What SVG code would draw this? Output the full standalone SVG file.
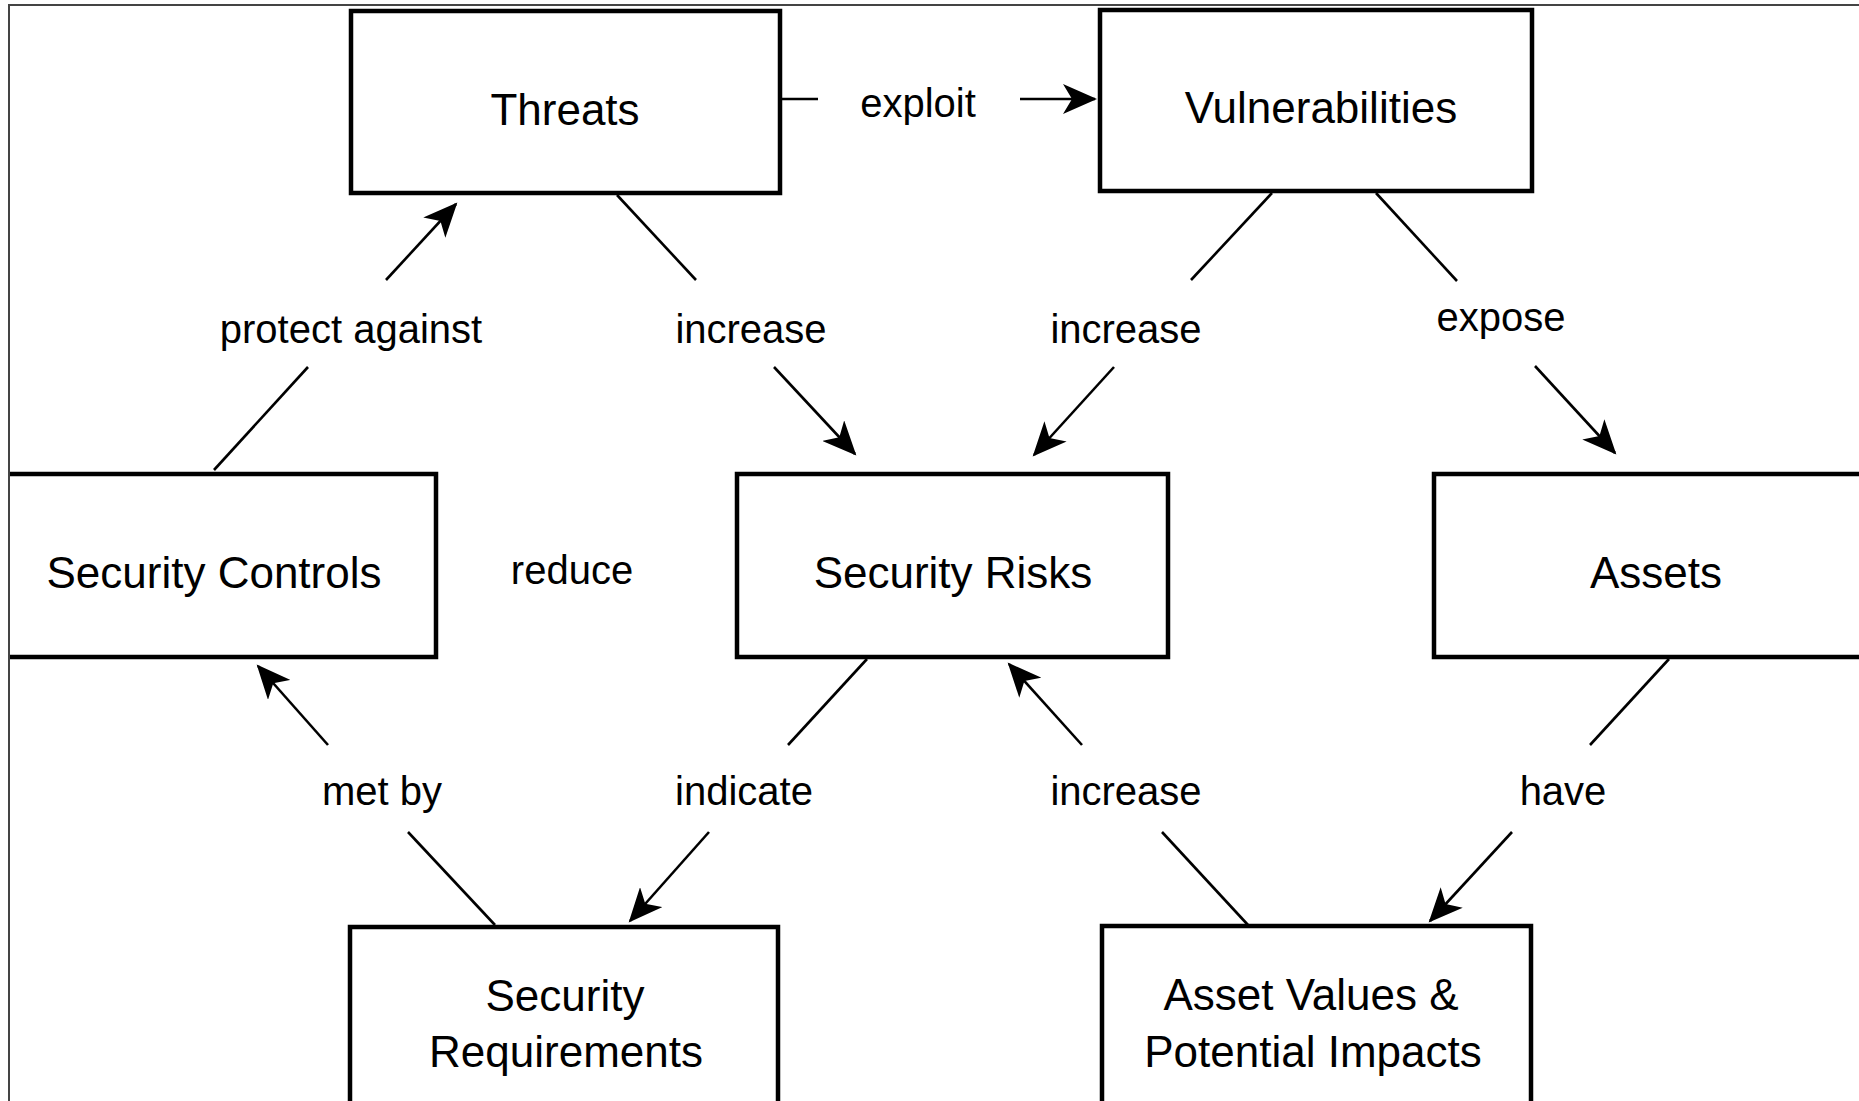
<svg xmlns="http://www.w3.org/2000/svg" width="1859" height="1101" viewBox="0 0 1859 1101">
<style>
  .box { fill: #ffffff; stroke: #000000; stroke-width: 4.5; }
  .nt { font-family: "Liberation Sans", Arial, sans-serif; font-size: 44px; fill: #000000; text-anchor: middle; }
  .lt { font-family: "Liberation Sans", Arial, sans-serif; font-size: 40px; fill: #000000; text-anchor: middle; }
  .ln { stroke: #000000; stroke-width: 2.6; fill: none; }
  .ar { stroke: #000000; stroke-width: 2.6; fill: none; marker-end: url(#head); }
  .frame { stroke: #444444; stroke-width: 2; fill: none; }
</style>
<defs>
  <marker id="head" markerUnits="userSpaceOnUse" viewBox="0 0 36 30" refX="32" refY="15" markerWidth="36" markerHeight="30" orient="auto">
    <path d="M0,0 L34,15 L0,30 L9,15 Z" fill="#000000"/>
  </marker>
</defs>
<rect x="0" y="0" width="1859" height="1101" fill="#ffffff"/>

<g id="connectors">
  <line class="ln" x1="780" y1="99" x2="818" y2="99"/>
  <line class="ar" x1="1020" y1="99" x2="1095" y2="99"/>
  <line class="ln" x1="617" y1="195" x2="696" y2="280"/>
  <line class="ar" x1="774" y1="367" x2="855" y2="454"/>
  <line class="ln" x1="1272" y1="193" x2="1191" y2="280"/>
  <line class="ar" x1="1114" y1="367" x2="1034" y2="455"/>
  <line class="ln" x1="214" y1="470" x2="308" y2="367"/>
  <line class="ar" x1="386" y1="280" x2="456" y2="204"/>
  <line class="ln" x1="1376" y1="193" x2="1457" y2="281"/>
  <line class="ar" x1="1535" y1="366" x2="1615" y2="453"/>
  <line class="ln" x1="867" y1="659" x2="788" y2="745"/>
  <line class="ar" x1="709" y1="832" x2="630" y2="921"/>
  <line class="ln" x1="495" y1="925" x2="408" y2="832"/>
  <line class="ar" x1="328" y1="745" x2="258" y2="666"/>
  <line class="ln" x1="1248" y1="925" x2="1162" y2="832"/>
  <line class="ar" x1="1082" y1="745" x2="1009" y2="664"/>
  <line class="ln" x1="1669" y1="659" x2="1590" y2="745"/>
  <line class="ar" x1="1512" y1="832" x2="1430" y2="921"/>
</g>

<g id="labels">
  <text class="lt" x="918" y="117">exploit</text>
  <text class="lt" x="351" y="343">protect against</text>
  <text class="lt" x="751" y="343">increase</text>
  <text class="lt" x="1126" y="343">increase</text>
  <text class="lt" x="1501" y="331">expose</text>
  <text class="lt" x="572" y="584">reduce</text>
  <text class="lt" x="382" y="805">met by</text>
  <text class="lt" x="744" y="805">indicate</text>
  <text class="lt" x="1126" y="805">increase</text>
  <text class="lt" x="1563" y="805">have</text>
</g>

<g id="threats">
  <rect class="box" x="351" y="11" width="429" height="182"/>
  <text class="nt" x="565" y="125">Threats</text>
</g>
<g id="vulnerabilities">
  <rect class="box" x="1100" y="10" width="432" height="181"/>
  <text class="nt" x="1321" y="123">Vulnerabilities</text>
</g>
<g id="security-controls">
  <path class="box" d="M9,474 H436 V657 H9"/>
  <text class="nt" x="214" y="588">Security Controls</text>
</g>
<g id="security-risks">
  <rect class="box" x="737" y="474" width="431" height="183"/>
  <text class="nt" x="953" y="588">Security Risks</text>
</g>
<g id="assets">
  <rect class="box" x="1434" y="474" width="500" height="183"/>
  <text class="nt" x="1656" y="588">Assets</text>
</g>
<g id="security-requirements">
  <rect class="box" x="350" y="927" width="428" height="300"/>
  <text class="nt" x="565" y="1011">Security</text>
  <text class="nt" x="566" y="1067">Requirements</text>
</g>
<g id="asset-values">
  <rect class="box" x="1102" y="926" width="429" height="300"/>
  <text class="nt" x="1311" y="1010">Asset Values &amp;</text>
  <text class="nt" x="1313" y="1067">Potential Impacts</text>
</g>

<path class="frame" d="M9,1101 V5 H1859"/>
</svg>
